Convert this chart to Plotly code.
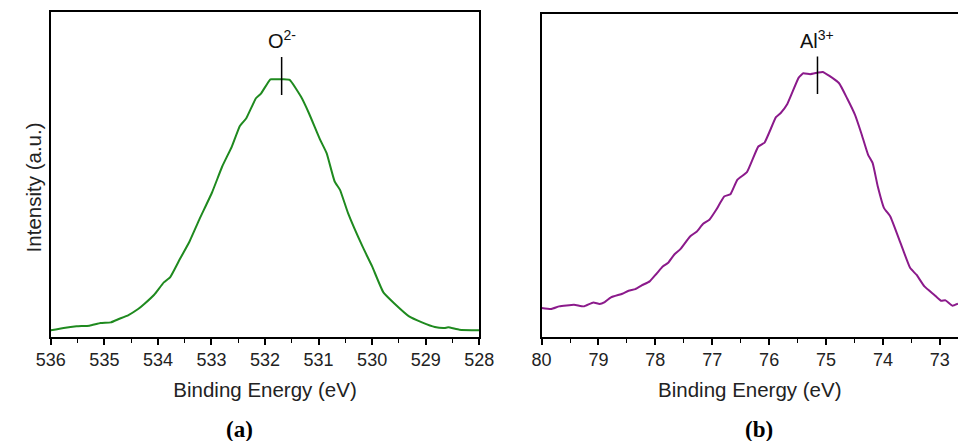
import plotly.graph_objects as go

# Panel (a): O 1s
o_energy = [536.00, 535.76, 535.52, 535.28, 535.07, 534.88, 534.73, 534.55, 534.37, 534.25,
            534.07, 533.89, 533.77, 533.59, 533.41, 533.23, 532.99, 532.80, 532.62, 532.47,
            532.35, 532.17, 532.08, 531.90, 531.84, 531.66, 531.54, 531.33, 531.18, 530.97,
            530.85, 530.70, 530.60, 530.45, 530.18, 530.00, 529.79, 529.58, 529.31, 529.07,
            528.83, 528.65, 528.58, 528.37, 528.00]
o_intensity = [20, 27, 32, 34, 42, 44, 54, 66, 84, 100,
               127, 164, 180, 234, 287, 352, 434, 512, 572, 634,
               657, 717, 730, 774, 774, 774, 772, 722, 672, 592,
               552, 467, 442, 372, 272, 212, 134, 100, 62, 44,
               30, 27, 29, 22, 20]

# Panel (b): Al 2p
al_energy = [80.00, 79.83, 79.69, 79.43, 79.26, 79.09, 78.98, 78.89, 78.78, 78.58,
             78.47, 78.35, 78.24, 78.10, 77.98, 77.87, 77.78, 77.67, 77.56, 77.39,
             77.27, 77.16, 77.05, 76.93, 76.79, 76.68, 76.56, 76.39, 76.19, 76.08,
             75.88, 75.80, 75.68, 75.48, 75.40, 75.28, 75.14, 75.06, 74.94, 74.77,
             74.63, 74.49, 74.38, 74.26, 74.18, 74.09, 73.98, 73.87, 73.69, 73.52,
             73.41, 73.27, 73.10, 72.98, 72.90, 72.78, 72.68]
al_intensity = [87, 84, 92, 97, 92, 104, 99, 105, 119, 130,
                139, 144, 155, 167, 190, 212, 222, 247, 264, 302,
                317, 340, 352, 382, 422, 429, 472, 495, 572, 584,
                660, 672, 700, 779, 792, 789, 794, 796, 784, 762,
                717, 667, 612, 547, 522, 452, 387, 362, 282, 207,
                187, 152, 127, 109, 110, 94, 100]

o_peak = 531.69
al_peak = 75.15
o_label = "O<sup>2-</sup>"
al_label = "Al<sup>3+</sup>"
x_title = "Binding Energy (eV)"
y_title = "Intensity (a.u.)"
panel_labels = ["(a)", "(b)"]

FONT = "Liberation Sans, Arial, sans-serif"

fig = go.Figure()
fig.add_trace(go.Scatter(x=o_energy, y=o_intensity, mode="lines",
                         line=dict(color="#1f8a1f", width=2, shape="spline", smoothing=0.4),
                         xaxis="x", yaxis="y", showlegend=False, hoverinfo="skip"))
fig.add_trace(go.Scatter(x=al_energy, y=al_intensity, mode="lines",
                         line=dict(color="#8b1a8b", width=2, shape="spline", smoothing=0.4),
                         xaxis="x2", yaxis="y2", showlegend=False, hoverinfo="skip"))

tickfont = dict(family=FONT, size=18, color="#222")
titlefont = dict(family=FONT, size=20.5, color="#222")

common_x = dict(showline=True, linecolor="black", linewidth=1.5, ticks="outside",
                ticklen=6, tickwidth=1.5, tickcolor="black", dtick=1,
                minor=dict(dtick=0.5, ticks="outside", ticklen=4, tickwidth=1.2, tickcolor="black"),
                showgrid=False, zeroline=False, tickfont=tickfont,
                title=dict(text=x_title, font=titlefont, standoff=13))

fig.update_layout(
    width=973, height=441,
    margin=dict(l=0, r=0, t=0, b=0),
    paper_bgcolor="white", plot_bgcolor="white",
    xaxis=dict(domain=[0.0380, 0.4923], range=[536, 528], mirror=True, anchor="y", **common_x),
    yaxis=dict(domain=[0.2358, 0.9728], range=[0, 976], showline=True, mirror=True,
               linecolor="black", linewidth=1.5, showticklabels=False, ticks="",
               showgrid=False, zeroline=False, anchor="x"),
    xaxis2=dict(domain=[0.5584, 1.0], range=[80, 72.68], mirror=True, anchor="y2", **common_x),
    yaxis2=dict(domain=[0.2358, 0.9683], range=[0, 970], showline=True, mirror=False,
                linecolor="black", linewidth=1.5, showticklabels=False, ticks="",
                showgrid=False, zeroline=False, anchor="x2"),
)

# peak markers
fig.add_shape(type="line", xref="x", yref="y", x0=o_peak, x1=o_peak, y0=727, y1=841,
              line=dict(color="black", width=1.5))
fig.add_shape(type="line", xref="x2", yref="y2", x0=al_peak, x1=al_peak, y0=730, y1=842,
              line=dict(color="black", width=1.5))
fig.add_annotation(xref="x", yref="y", x=o_peak, y=892, text=o_label, showarrow=False,
                   font=dict(family=FONT, size=20, color="#111"), xanchor="center", yanchor="middle")
fig.add_annotation(xref="x2", yref="y2", x=al_peak, y=894, text=al_label, showarrow=False,
                   font=dict(family=FONT, size=20, color="#111"), xanchor="center", yanchor="middle")

# y axis title
fig.add_annotation(xref="paper", yref="paper", x=20 / 973, y=1 - 187 / 441, text=y_title,
                   textangle=-90, showarrow=False, font=titlefont,
                   xanchor="center", yanchor="middle")

# panel labels
for lbl, px in zip(panel_labels, [232, 768]):
    fig.add_annotation(xref="paper", yref="paper", x=px / 973, y=1 - 429 / 441,
                       text="<b>" + lbl + "</b>", showarrow=False,
                       font=dict(family="Liberation Serif, Times New Roman, serif", size=23, color="black"),
                       xanchor="center", yanchor="middle")

fig.write_html("out.html")
